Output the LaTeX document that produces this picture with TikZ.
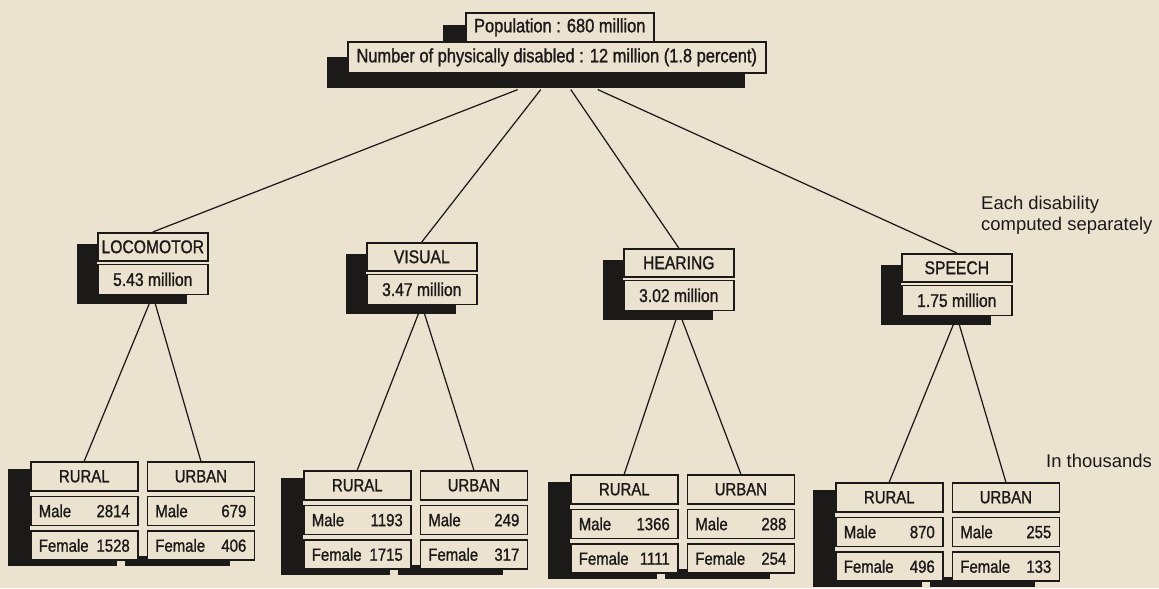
\documentclass[tikz,border=0pt]{standalone}
\usepackage{fontspec}
\setmainfont{Liberation Sans}[FakeStretch=0.85, FakeBold=1.2]
\newfontfamily\notefont{Liberation Sans}
\usetikzlibrary{positioning,calc}

\definecolor{paper}{HTML}{EBE2D0}
\definecolor{ink}{HTML}{1C1A18}

\tikzset{
    box/.style={draw=ink, fill=paper, line width=0.9pt, inner sep=0pt, text=ink},
    headbox/.style={box, minimum height=0.58cm, font=\fontsize{11}{13}\selectfont},
    kindbox/.style={box, minimum width=2.2cm, font=\fontsize{10.5}{12}\selectfont},
    cellbox/.style={box, minimum width=2.14cm, minimum height=0.58cm, font=\fontsize{10}{12}\selectfont},
    shade/.style={fill=ink},
    link/.style={draw=ink, line width=0.7pt},
    note/.style={text=ink, font=\notefont\fontsize{10.5}{12}\selectfont, align=left, anchor=west},
}

\begin{document}
\begin{tikzpicture}[x=0.02cm, y=-0.02cm]
    \useasboundingbox[fill=paper] (0,0) rectangle (1159,588);

    \fill[shade] (443,25) rectangle (631,54);
    \fill[shade] (327,57) rectangle (745,88);
    \node[headbox, minimum width=3.76cm, anchor=north west] (pop) at (465,12) {Population : 680 million};
    \node[headbox, minimum width=8.36cm, minimum height=0.62cm, anchor=north west] (pd) at (347,41)
        {Number of physically disabled : 12 million (1.8 percent)};

    \foreach \k/\kind/\amt/\x/\y/\dx in {lo/LOCOMOTOR/5.43/97/232/-39, vi/VISUAL/3.47/366/242/-16,
                                         he/HEARING/3.02/623/248/14, sp/SPEECH/1.75/901/253/41} {
        \fill[shade] (\x-20,\y+12) rectangle (\x,\y+72);
        \fill[shade] (\x-20,\y+60) rectangle (\x+90,\y+72);
        \node[kindbox, minimum height=0.56cm, anchor=north west] (\k-t) at (\x,\y) {\kind};
        \node[kindbox, minimum height=0.6cm, below=0.04cm of \k-t] (\k-v) {\amt\ million};
        \coordinate (\k-top) at ($(pd.south)+(\dx,16)$);
        \draw[link] (\k-top) -- (\k-t.north);
    }

    \foreach \k/\x/\y/\rmale/\rfem/\umale/\ufem in {lo/30/461/2814/1528/679/406, vi/303/470/1193/1715/249/317,
                                                   he/570/474/1366/1111/288/254, sp/835/482/870/496/255/133} {
        \fill[shade] (\x-22,\y+8) rectangle (\x,\y+105);
        \fill[shade] (\x-22,\y+95) rectangle (\x+87,\y+105);
        \fill[shade] (\x+95,\y+95) rectangle (\x+200,\y+105);
        \node[cellbox, anchor=north west] (\k-r) at (\x,\y) {RURAL};
        \node[cellbox, below=0.08cm of \k-r] (\k-rm) {\hbox to 1.82cm{Male\hfill\rmale}};
        \node[cellbox, below=0.08cm of \k-rm] (\k-rf) {\hbox to 1.82cm{Female\hfill\rfem}};
        \node[cellbox, right=0.16cm of \k-r] (\k-u) {URBAN};
        \node[cellbox, below=0.08cm of \k-u] (\k-um) {\hbox to 1.82cm{Male\hfill\umale}};
        \node[cellbox, below=0.08cm of \k-um] (\k-uf) {\hbox to 1.82cm{Female\hfill\ufem}};
        \draw[link] (\k-v.south) -- (\k-r.north);
        \draw[link] (\k-v.south) -- (\k-u.north);
    }

    \node[note] (each) at (975,215) {Each disability\\computed separately};
    \node[note] (unit) at (1040,461) {In thousands};
\end{tikzpicture}
\end{document}
